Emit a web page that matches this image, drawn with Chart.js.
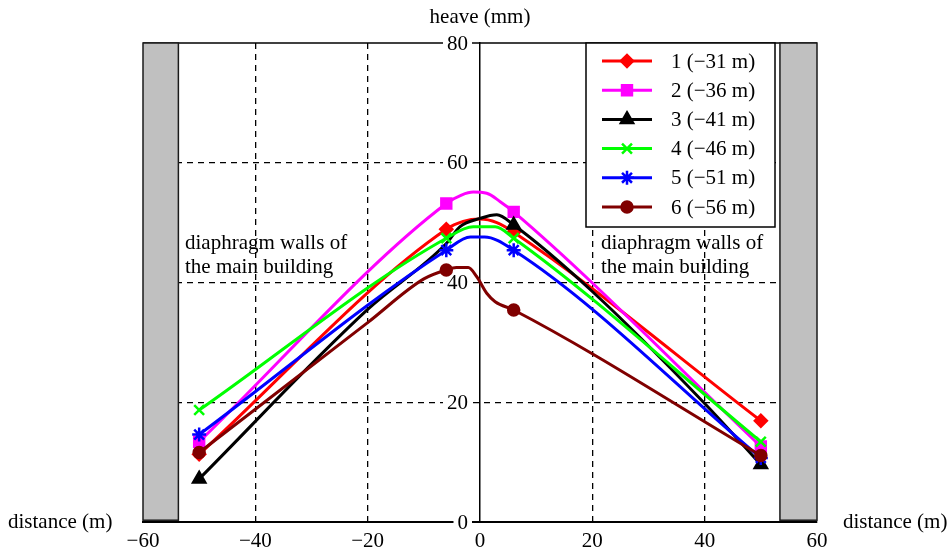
<!DOCTYPE html>
<html>
<head>
<meta charset="utf-8">
<script src="https://cdn.jsdelivr.net/npm/chart.js@4.4.1/dist/chart.umd.min.js"></script>
<style>
  body { margin: 0; background: #fff; }
  canvas { display: block; }
</style>
</head>
<body>
<canvas id="heaveChart" width="950" height="551"></canvas>
<script>
// heave profile across the pit, one line per excavation depth
const seriesNames = ['1 (\u221231 m)', '2 (\u221236 m)', '3 (\u221241 m)', '4 (\u221246 m)', '5 (\u221251 m)', '6 (\u221256 m)'];

// x = distance (m), y = heave (mm)
const x1 = [-50, -6, -3, 0, 3, 6, 50];
const y1 = [11.3, 48.9, 50.2, 50.6, 50.0, 48.4, 16.9];
const x2 = [-50, -6, -3.3, -1.2, 1.2, 3.6, 6, 50];
const y2 = [13.4, 53.2, 54.6, 55.1, 54.9, 53.5, 51.8, 12.6];
const x3 = [-50, -20, -6, -3.6, 0, 3, 6, 20, 40, 50];
const y3 = [7.2, 35.5, 46.5, 49.3, 50.7, 51.3, 49.6, 38.5, 19.8, 9.6];
const x4 = [-50, -6, -1.2, 2.7, 6, 50];
const y4 = [18.7, 47.4, 49.3, 49.3, 47.4, 13.4];
const x5 = [-50, -6, -1.7, 0.8, 6, 50];
const y5 = [14.6, 45.4, 47.6, 47.6, 45.4, 10.7];
const x6 = [-50, -20, -10, -6, -4.2, -2.1, -0.6, 1.2, 2.7, 6, 50];
const y6 = [11.6, 33.3, 40.6, 42.1, 42.5, 42.5, 41.0, 38.2, 36.8, 35.4, 11.1];

// measuring points that carry a marker, per line
const markerX = [-50, -6, 6, 50];
const markerX3 = [-50, 6, 50];

const xTicks = [-60, -40, -20, 0, 20, 40, 60];
const yTicks = [0, 20, 40, 60, 80];

// diaphragm walls (distance range) and their height
const wallLeft = [-60, -53.7];
const wallRight = [53.4, 60];
const wallSpan = [0.3, 80];

const colors = ['#ff0000', '#ff00ff', '#000000', '#00ff00', '#0000ff', '#800000'];
const styles = ['rectRot', 'rect', 'triangle', 'crossRot', 'star', 'circle'];
const sizes = [6, 7, 7, 7, 7, 5.5];

const FONT = '21px "Liberation Serif", "Times New Roman", serif';

function zip(xs, ys) {
    return xs.map((v, i) => ({ x: v, y: ys[i] }));
}

const allX = [x1, x2, x3, x4, x5, x6];
const allY = [y1, y2, y3, y4, y5, y6];
const allMarks = [markerX, markerX, markerX3, markerX, markerX, markerX];

const datasets = seriesNames.map((name, i) => ({
    label: name,
    data: zip(allX[i], allY[i]),
    borderColor: colors[i],
    backgroundColor: colors[i],
    borderWidth: 3,
    pointStyle: styles[i],
    pointBorderWidth: 2.5,
    pointRadius: ctx => allMarks[i].includes(ctx.raw.x) ? sizes[i] : 0,
    cubicInterpolationMode: 'monotone',
    order: 6 - i   // later depths end up on top
}));

function fmt(v) {
    return v < 0 ? '\u2212' + Math.abs(v) : String(v);
}

const decor = {
    id: 'decor',
    beforeDatasetsDraw(chart) {
        const { ctx, chartArea: a, scales: { x, y } } = chart;
        ctx.save();

        // solid top line at 80
        const top = y.getPixelForValue(80);
        ctx.strokeStyle = '#000';
        ctx.lineWidth = 1.5;
        ctx.beginPath();
        ctx.moveTo(a.left, top);
        ctx.lineTo(a.right, top);
        ctx.stroke();

        // walls
        [wallLeft, wallRight].forEach(w => {
            const px0 = x.getPixelForValue(w[0]);
            const px1 = x.getPixelForValue(w[1]);
            const py0 = y.getPixelForValue(wallSpan[1]);
            const py1 = y.getPixelForValue(wallSpan[0]);
            ctx.fillStyle = '#c0c0c0';
            ctx.fillRect(px0, py0, px1 - px0, py1 - py0);
            ctx.strokeStyle = '#1a1a1a';
            ctx.lineWidth = 1.5;
            ctx.strokeRect(px0, py0, px1 - px0, py1 - py0);
        });

        ctx.font = FONT;

        // y labels sit just left of the axis, on a white patch
        const ax = x.getPixelForValue(0);
        ctx.textAlign = 'right';
        ctx.textBaseline = 'middle';
        yTicks.forEach(v => {
            const py = y.getPixelForValue(v);
            const txt = fmt(v);
            const tw = ctx.measureText(txt).width;
            ctx.fillStyle = '#fff';
            ctx.fillRect(ax - 12 - tw - 4, py - 8, tw + 8, 16);
            ctx.fillStyle = '#000';
            ctx.fillText(txt, ax - 12, py + 1);
        });

        // x labels under the axis
        ctx.textAlign = 'center';
        xTicks.forEach(v => {
            ctx.fillText(fmt(v), x.getPixelForValue(v), a.bottom + 19);
        });

        // axis titles
        ctx.textAlign = 'left';
        ctx.fillText('distance (m)', 8, a.bottom);
        ctx.fillText('distance (m)', 843, a.bottom);
        ctx.textAlign = 'center';
        ctx.fillText('heave (mm)', ax, 17);

        // wall notes
        ctx.textAlign = 'left';
        ctx.fillText('diaphragm walls of', 185, 243);
        ctx.fillText('the main building', 185, 267);
        ctx.fillText('diaphragm walls of', 601, 243);
        ctx.fillText('the main building', 601, 267);

        ctx.restore();
    },
    afterDraw(chart) {
        const { ctx } = chart;
        ctx.save();
        const bx = 586, by = 43, bw = 189, bh = 184;
        ctx.fillStyle = '#fff';
        ctx.fillRect(bx, by, bw, bh);
        ctx.strokeStyle = '#000';
        ctx.lineWidth = 1.5;
        ctx.strokeRect(bx, by, bw, bh);

        ctx.font = FONT;
        ctx.textAlign = 'left';
        ctx.textBaseline = 'middle';
        chart.data.datasets.forEach((ds, i) => {
            const ry = by + 18 + i * 29.2;
            ctx.strokeStyle = ds.borderColor;
            ctx.lineWidth = 3;
            ctx.beginPath();
            ctx.moveTo(bx + 16, ry);
            ctx.lineTo(bx + 66, ry);
            ctx.stroke();
            ctx.fillStyle = ds.backgroundColor;
            ctx.lineWidth = 2.5;
            Chart.helpers.drawPoint(ctx, {
                pointStyle: styles[i], radius: sizes[i], rotation: 0, borderWidth: 2.5
            }, bx + 41, ry);
            ctx.fillStyle = '#000';
            ctx.fillText(ds.label, bx + 85, ry + 1);
        });
        ctx.restore();
    }
};

const chart = new Chart(document.getElementById('heaveChart'), {
    type: 'line',
    data: { datasets: datasets },
    options: {
        responsive: false,
        animation: false,
        events: [],
        layout: { padding: { left: 143, right: 133, top: 43, bottom: 29 } },
        plugins: { legend: { display: false }, tooltip: { enabled: false } },
        scales: {
            x: {
                type: 'linear',
                min: -60,
                max: 60,
                ticks: { display: false, stepSize: 20 },
                grid: {
                    drawTicks: false,
                    lineWidth: 1.3,
                    color: c => (c.tick && c.tick.value !== 0 && Math.abs(c.tick.value) !== 60) ? '#000' : 'rgba(0,0,0,0)'
                },
                border: { display: true, color: '#000', width: 2, dash: [6, 5] }
            },
            y: {
                type: 'linear',
                position: { x: 0 },
                min: 0,
                max: 80,
                ticks: { display: false, stepSize: 20 },
                grid: {
                    drawTicks: false,
                    lineWidth: 1.3,
                    color: c => (c.tick && c.tick.value > 0 && c.tick.value < 80) ? '#000' : 'rgba(0,0,0,0)'
                },
                border: { display: true, color: '#000', width: 1.5, dash: [6, 5] }
            }
        }
    },
    plugins: [decor]
});
</script>
</body>
</html>
